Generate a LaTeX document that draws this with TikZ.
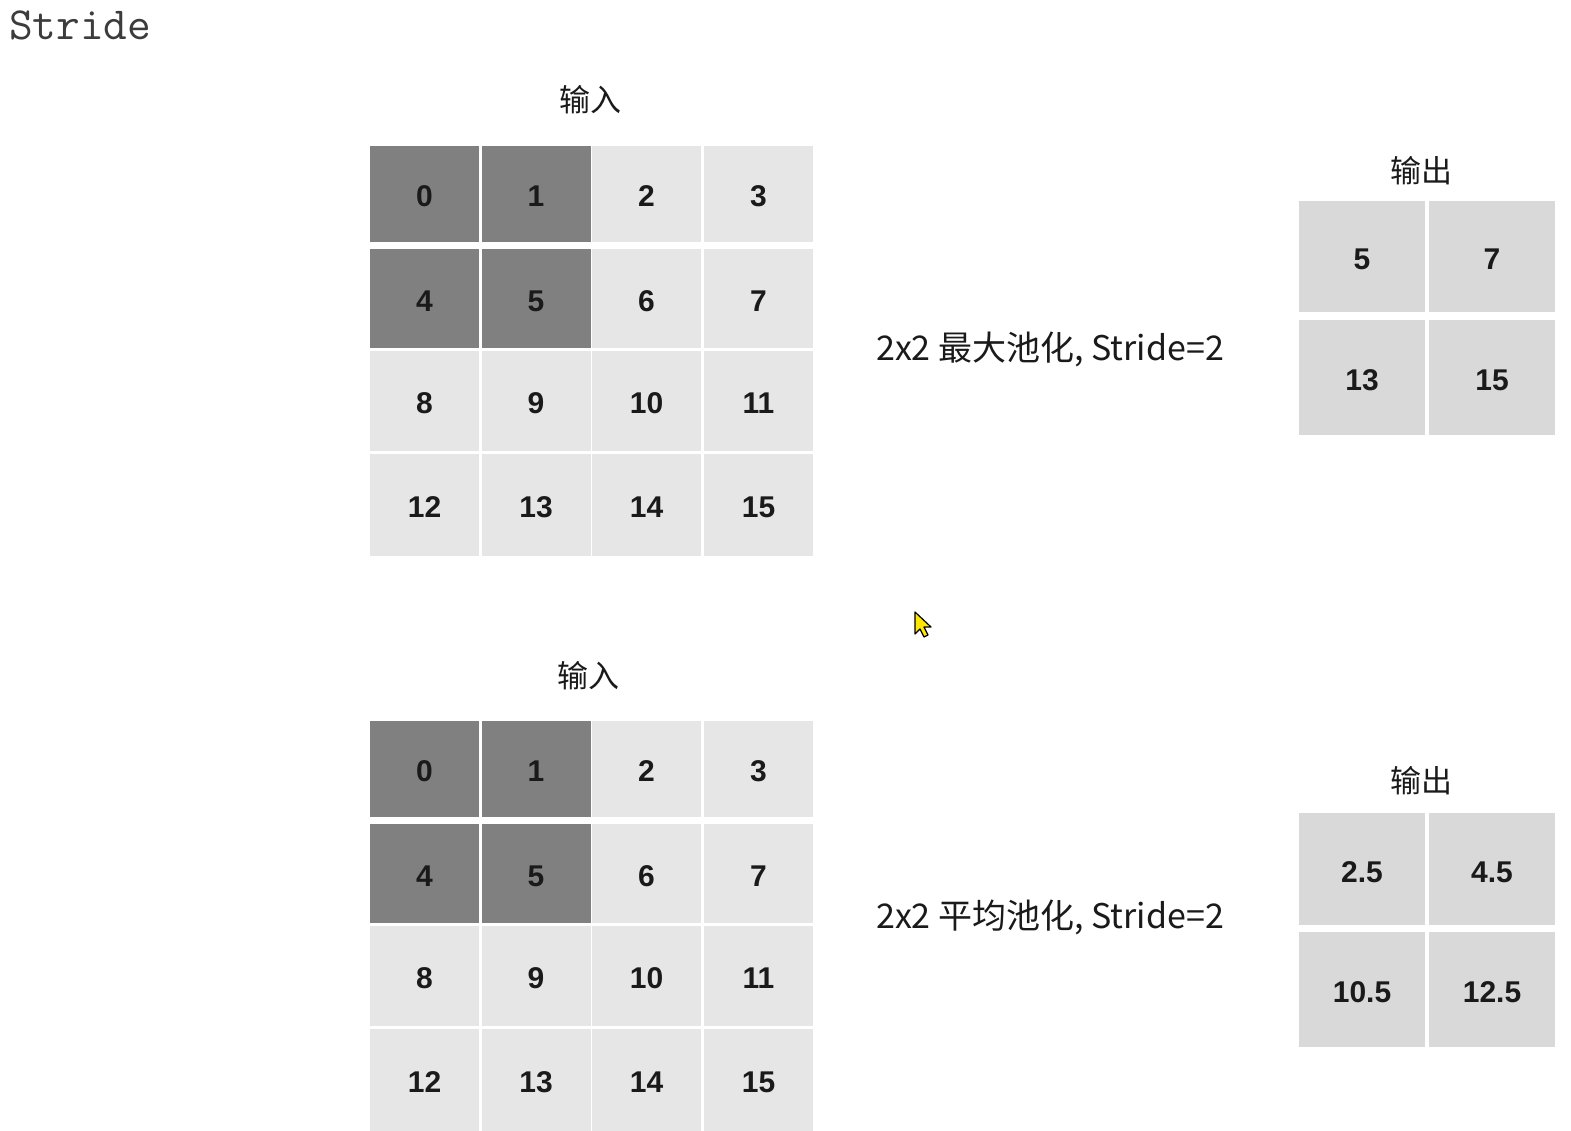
\documentclass[tikz,border=0pt]{standalone}
\usepackage{fontspec}
\setmainfont{Liberation Sans}
\newfontfamily\cjk{Noto Sans CJK SC}
\newfontfamily\titlefont{Latin Modern Mono}
\definecolor{darkcell}{HTML}{808080}
\definecolor{lightcell}{HTML}{E6E6E6}
\definecolor{outcell}{HTML}{D9D9D9}
\definecolor{txt}{HTML}{1A1A1A}
\begin{document}
\begin{tikzpicture}[x=1pt,y=-1pt,
  cell/.style={rectangle, inner sep=0pt, fill=lightcell, minimum width=109pt,
    font=\fontsize{30}{32}\selectfont\bfseries, text=txt, text height=25pt, text depth=0pt},
  dcell/.style={cell, fill=darkcell},
  ocell/.style={rectangle, inner sep=0pt, fill=outcell, minimum width=126pt,
    font=\fontsize{30}{32}\selectfont\bfseries, text=txt, text height=26pt, text depth=0pt},
  lab/.style={font=\cjk\fontsize{31}{34}\selectfont, text=txt, inner sep=0pt},
  optext/.style={font=\cjk\fontsize{34}{36}\selectfont, text=txt, inner sep=0pt}]
\useasboundingbox[fill=white] (0,0) rectangle (1571,1130);

\node[anchor=west, font=\titlefont\fontsize{46}{48}\selectfont, text=txt!85, inner sep=0pt] (title) at (9,25) {Stride};

% ---------- top input grid ----------
\node[lab] (inA) at (590,100) {输入};
\foreach \r/\yc/\h in {0/194/96,1/298.5/99,2/401/100,3/505/102}{
  \foreach \xc [count=\j from 0] in {424.5,536,646.5,758.5}{
    \pgfmathtruncatemacro{\v}{4*\r+\j}
    \ifnum\r<2 \ifnum\j<2 \def\sty{dcell}\else\def\sty{cell}\fi\else\def\sty{cell}\fi
    \node[\sty, minimum height=\h pt] (a\v) at (\xc,\yc) {\v};
  }
}
\node[optext] (opA) at (1050,349) {2x2 最大池化, Stride=2};
\node[lab] (outA) at (1421,171) {输出};
\node[ocell, minimum height=111pt] (oa1) at (1362,256.5) {5};
\node[ocell, minimum height=111pt] (oa2) at (1492,256.5) {7};
\node[ocell, minimum height=115pt] (oa3) at (1362,377.5) {13};
\node[ocell, minimum height=115pt] (oa4) at (1492,377.5) {15};

% ---------- bottom input grid ----------
\node[lab] (inB) at (588,676) {输入};
\foreach \r/\yc/\h in {0/769/96,1/873.5/99,2/976/100,3/1080/102}{
  \foreach \xc [count=\j from 0] in {424.5,536,646.5,758.5}{
    \pgfmathtruncatemacro{\v}{4*\r+\j}
    \ifnum\r<2 \ifnum\j<2 \def\sty{dcell}\else\def\sty{cell}\fi\else\def\sty{cell}\fi
    \node[\sty, minimum height=\h pt] (b\v) at (\xc,\yc) {\v};
  }
}
\node[optext] (opB) at (1050,917) {2x2 平均池化, Stride=2};
\node[lab] (outB) at (1421,781) {输出};
\node[ocell, minimum height=112pt] (ob1) at (1362,869) {2.5};
\node[ocell, minimum height=112pt] (ob2) at (1492,869) {4.5};
\node[ocell, minimum height=115pt] (ob3) at (1362,989.5) {10.5};
\node[ocell, minimum height=115pt] (ob4) at (1492,989.5) {12.5};

% ---------- mouse cursor ----------
\coordinate (cur) at (915,612);
\filldraw[fill=yellow!90!orange, draw=black, line width=1.2pt, line join=round]
  (cur) -- ++(0,22) -- ++(5,-5) -- ++(4,8) -- ++(4,-2) -- ++(-4,-8) -- ++(7,0) -- cycle;
\end{tikzpicture}
\end{document}
